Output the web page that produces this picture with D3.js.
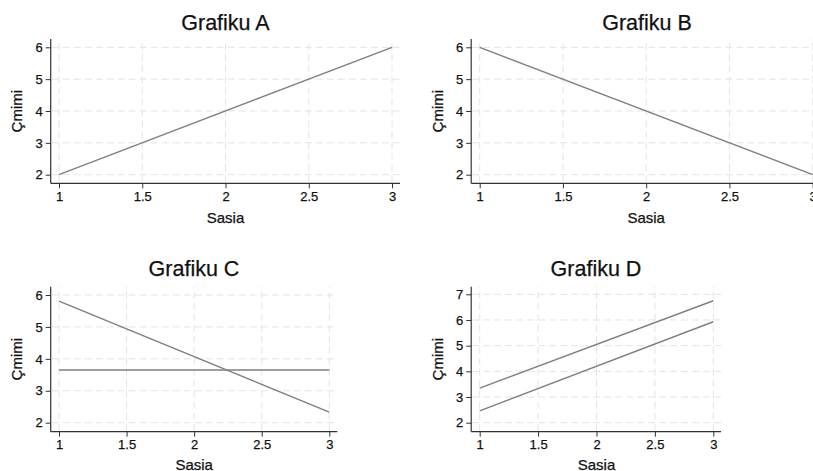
<!DOCTYPE html>
<html><head><meta charset="utf-8">
<script src="https://cdn.jsdelivr.net/npm/d3@7"></script>
<style>body{margin:0;background:#fff}svg{display:block}text{font-family:"Liberation Sans",Arial,Helvetica,sans-serif;fill:#111;stroke:#111;stroke-width:0.25px}</style>
</head><body><svg id="c" width="813" height="471"></svg>
<script>
const xTicks = [1, 1.5, 2, 2.5, 3];
const yTicksA = [2, 3, 4, 5, 6];
const yTicksD = [2, 3, 4, 5, 6, 7];
const titles = ["Grafiku A", "Grafiku B", "Grafiku C", "Grafiku D"];
const xLabel = "Sasia";
const yLabel = "Çmimi";
const sasia = [1, 3];
const seriesA = [[2, 6]];
const seriesB = [[6, 2]];
const seriesC = [[5.81, 2.33], [3.65, 3.65]];
const seriesD = [[3.35, 6.75], [2.46, 5.93]];

const panels = [
  {title: titles[0], series: seriesA, yTicks: yTicksA, x: [59, 392], y: [174.7, 47.3], yd: [2, 6], left: 50.7, right: 400, top: 39, bottom: 183.3, tx: 225.5, ty: 30, lx: 22, ly: 222.7},
  {title: titles[1], series: seriesB, yTicks: yTicksA, x: [479.7, 812.7], y: [174.7, 47.3], yd: [2, 6], left: 471.2, right: 821, top: 39, bottom: 183.3, tx: 647, ty: 30, lx: 443, ly: 222.7},
  {title: titles[2], series: seriesC, yTicks: yTicksA, x: [59, 329.3], y: [422.7, 295], yd: [2, 6], left: 50.7, right: 337.3, top: 286.7, bottom: 431.7, tx: 194, ty: 276, lx: 22, ly: 469.5},
  {title: titles[3], series: seriesD, yTicks: yTicksD, x: [479.7, 713.3], y: [422.7, 294.3], yd: [2, 7], left: 471.2, right: 721, top: 286.7, bottom: 431.7, tx: 596, ty: 276, lx: 443, ly: 469.5}
];

const svg = d3.select("#c");
panels.forEach(p => {
  const g = svg.append("g");
  const xs = d3.scaleLinear().domain([1, 3]).range(p.x);
  const ys = d3.scaleLinear().domain(p.yd).range(p.y);
  g.selectAll(".hg").data(p.yTicks).join("line")
    .attr("x1", p.left + 1).attr("x2", p.right)
    .attr("y1", d => ys(d)).attr("y2", d => ys(d))
    .attr("stroke", "#e4e4e4").attr("stroke-width", 1).attr("stroke-dasharray", "7,4");
  g.selectAll(".vg").data(xTicks).join("line")
    .attr("x1", d => xs(d)).attr("x2", d => xs(d))
    .attr("y1", p.bottom - 1).attr("y2", p.top)
    .attr("stroke", "#e4e4e4").attr("stroke-width", 1).attr("stroke-dasharray", "7,4");
  const line = d3.line().x((d, i) => xs(sasia[i])).y(d => ys(d));
  p.series.forEach(s => {
    g.append("path").attr("d", line(s)).attr("fill", "none")
      .attr("stroke", "#7f7f7f").attr("stroke-width", 1.4);
  });
  const xAxis = d3.axisBottom(xs).tickValues(xTicks).tickSize(5).tickPadding(3).tickFormat(d3.format("~g"));
  const yAxis = d3.axisLeft(ys).tickValues(p.yTicks).tickSize(5).tickPadding(3).tickFormat(d3.format("~g"));
  const gx = g.append("g").attr("transform", `translate(0,${p.bottom})`).call(xAxis);
  const gy = g.append("g").attr("transform", `translate(${p.left},0)`).call(yAxis);
  [gx, gy].forEach(a => {
    a.select(".domain").remove();
    a.selectAll(".tick line").attr("stroke", "#333").attr("stroke-width", 1);
    a.selectAll(".tick text").style("font-size", "13px").style("fill", "#111");
  });
  g.append("line").attr("x1", p.left).attr("x2", p.right).attr("y1", p.bottom).attr("y2", p.bottom).attr("stroke", "#333").attr("stroke-width", 1.2);
  g.append("line").attr("x1", p.left).attr("x2", p.left).attr("y1", p.top).attr("y2", p.bottom).attr("stroke", "#333").attr("stroke-width", 1.2);
  g.append("text").attr("x", p.tx).attr("y", p.ty).attr("text-anchor", "middle").style("font-size", "21.5px").text(p.title);
  g.append("text").attr("x", (xs(1) + xs(3)) / 2).attr("y", p.ly).attr("text-anchor", "middle").style("font-size", "15px").text(xLabel);
  g.append("text").attr("transform", `translate(${p.lx},${(p.top + p.bottom) / 2}) rotate(-90)`).attr("text-anchor", "middle").style("font-size", "15px").text(yLabel);
});
</script></body></html>
